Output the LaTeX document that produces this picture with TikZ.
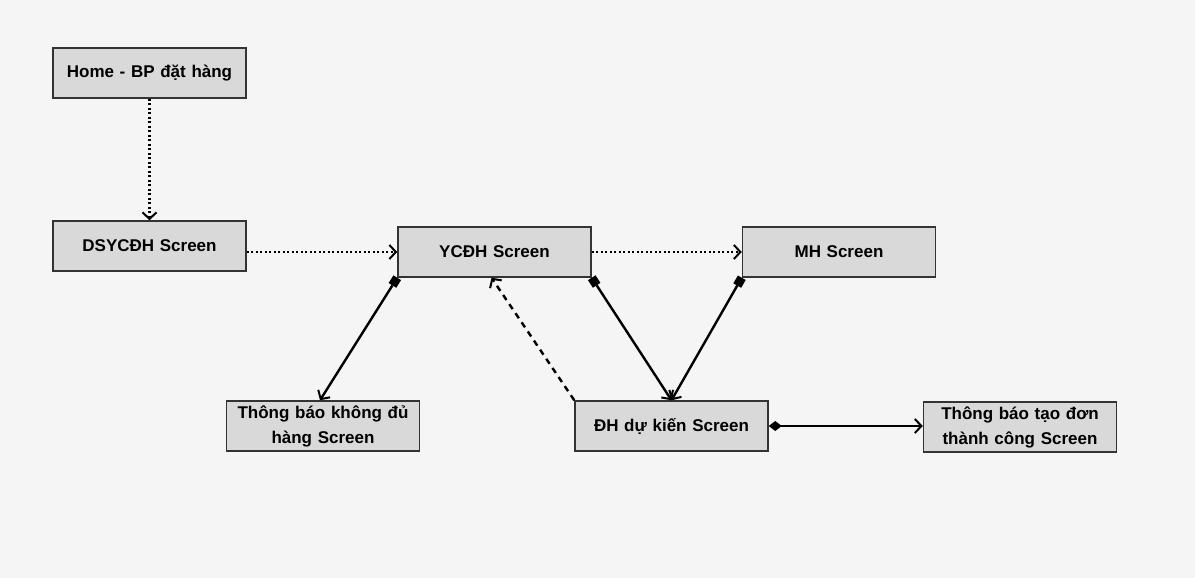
\documentclass[tikz,border=0pt]{standalone}
\usepackage{fontspec}
\setmainfont{Liberation Sans}
\usetikzlibrary{arrows.meta}
\definecolor{bgc}{HTML}{F5F5F5}
\definecolor{boxc}{HTML}{D9D9D9}
\definecolor{edgec}{HTML}{333333}
\begin{document}
\begin{tikzpicture}[x=1pt,y=-1pt,
  scr/.style={draw=edgec,line width=1.5pt,fill=boxc,minimum width=193pt,minimum height=50pt,
    inner sep=1pt,font=\fontsize{17}{25}\selectfont\bfseries,align=center,text width=190pt},
  tipend/.style={-{Straight Barb[length=6.5pt,width=14pt,line width=2pt]}},
  dotline/.style={line width=2.4pt,dash pattern=on 2.2pt off 2.3pt,tipend},
  dashline/.style={line width=2.4pt,dash pattern=on 6pt off 5pt,tipend},
  solidline/.style={line width=2.4pt,tipend},
  sq/.style={{Square[length=9pt,width=9pt,line width=0pt]}-{Straight Barb[length=6.5pt,width=14pt,line width=2pt]}},
  dm/.style={{Diamond[length=13pt,width=10pt,line width=0pt]}-{Straight Barb[length=6.5pt,width=14pt,line width=2pt]}}
]
\fill[bgc] (0,0) rectangle (1195,578);
\useasboundingbox (0,0) rectangle (1195,578);
\node[scr] (home) at (149.5,73) {Home - BP đặt hàng};
\node[scr] (ds) at (149.5,246) {DSYCĐH Screen};
\node[scr] (yc) at (494.5,252) {YCĐH Screen};
\node[scr] (mh) at (839,252) {MH Screen};
\node[scr] (tb1) at (323,426) {Thông báo không đủ\\hàng Screen};
\node[scr] (dh) at (671.5,426) {ĐH dự kiến Screen};
\node[scr] (tb2) at (1020,427) {Thông báo tạo đơn\\thành công Screen};
\coordinate (dsr) at (ds.east |- yc.west);
\draw[dotline] (home.south) -- (ds.north);
\draw[dotline] (dsr) -- (yc.west);
\draw[dotline] (yc.east) -- (mh.west);
\draw[solidline,sq] (yc.south west) -- ([xshift=-3pt]tb1.north);
\draw[solidline,sq] (yc.south east) -- (dh.north);
\draw[solidline,sq] (mh.south west) -- (dh.north);
\draw[dashline] (dh.north west) -- ([xshift=-3pt]yc.south);
\draw[solidline,dm] (dh.east) -- (tb2.west |- dh.east);
\end{tikzpicture}
\end{document}
